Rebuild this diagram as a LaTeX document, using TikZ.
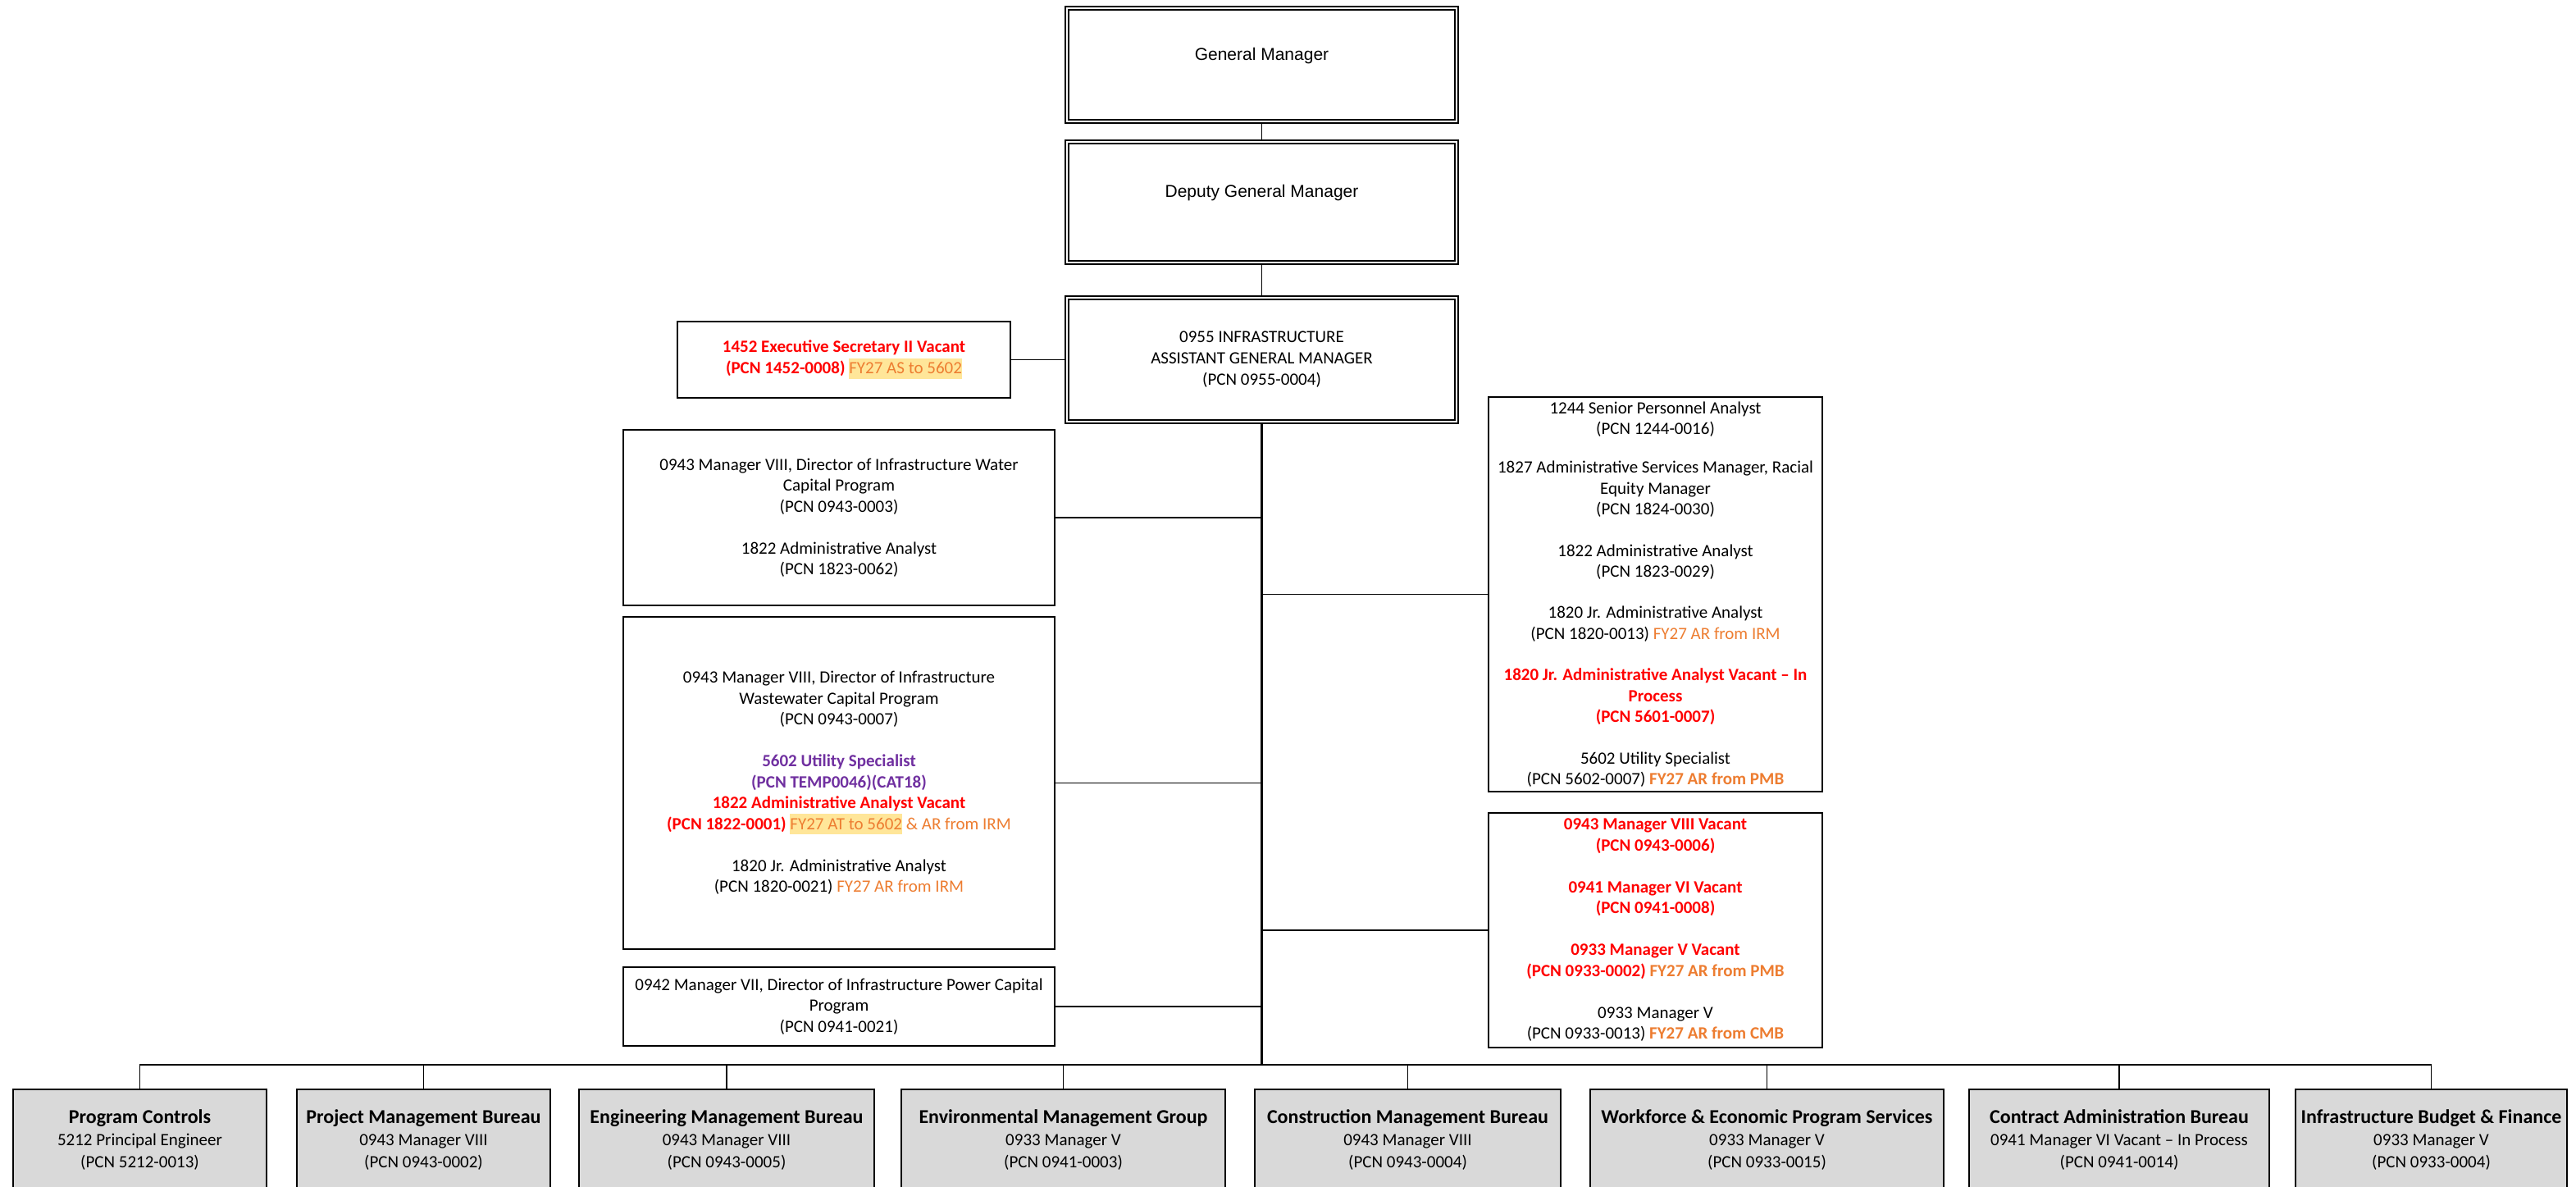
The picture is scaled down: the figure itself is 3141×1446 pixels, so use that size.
\documentclass[tikz,border=0pt]{standalone}
\usepackage{fontspec}
\setmainfont{Carlito}
\newfontfamily\arialf{Liberation Sans}
\definecolor{vred}{HTML}{FF0000}
\definecolor{orng}{HTML}{ED7D31}
\definecolor{hlc}{HTML}{FFE699}
\definecolor{purp}{HTML}{7030A0}
\definecolor{boxgray}{HTML}{D9D9D9}
\newcommand\hl[1]{{\setlength{\fboxsep}{0pt}\colorbox{hlc}{\rule[-6pt]{0pt}{25pt}#1}}}
\newcommand\rb[1]{{\bfseries\color{vred}#1}}
\newcommand\org[1]{{\color{orng}#1}}
\newcommand\orgb[1]{{\bfseries\color{orng}#1}}
\newcommand\pb[1]{{\bfseries\color{purp}#1}}
\newcommand\ttl[1]{{\fontsize{24}{27}\selectfont\bfseries #1}}
\newlength\bl \setlength\bl{25.5pt}
\begin{document}
\begin{tikzpicture}[x=1pt,y=-1pt,
  box/.style={draw=black, line width=1.6pt, fill=white, align=center, inner sep=0pt,
    font=\fontsize{21}{25.5}\selectfont, anchor=center},
  dbox/.style={draw=black, double=white, double distance=2.8pt, line width=1.6pt, fill=white,
    align=center, inner sep=0pt, anchor=center},
  bbox/.style={box, fill=boxgray, font=\fontsize{21}{27}\selectfont, minimum height=123.4pt},
  link/.style={line width=1.6pt},
  trunkline/.style={line width=2.2pt}]
\useasboundingbox (0,0) rectangle (3141,1446);
\fill[white] (0,0) rectangle (3141,1446);
\clip (0,0) rectangle (3141,1446);

% top chain
\node[dbox, minimum width=475pt, minimum height=138pt, font=\arialf\fontsize{21}{25}\selectfont]
  (gm) at (1538.5,79) {\raisebox{5.5pt}[0pt][0pt]{General Manager}};
\node[dbox, minimum width=475pt, minimum height=147pt, font=\arialf\fontsize{21}{25}\selectfont]
  (dgm) at (1538.5,246.5) {\raisebox{6pt}[0pt][0pt]{Deputy General Manager}};
\node[dbox, minimum width=475pt, minimum height=151pt, font=\fontsize{21}{26}\selectfont]
  (agm) at (1538.5,438.5) {0955 INFRASTRUCTURE\\ASSISTANT GENERAL MANAGER\\(PCN 0955-0004)};

\node[box, minimum width=406pt, minimum height=93pt, font=\fontsize{21}{26}\selectfont]
  (exec) at (1029,438.5) {\rb{1452 Executive Secretary II Vacant}\\\rb{(PCN 1452-0008)} \hl{\org{FY27 AS to 5602}}};

% left column
\node[box, minimum width=526pt, minimum height=214pt] (water) at (1023,631)
  {0943 Manager VIII, Director of Infrastructure Water\\Capital Program\\(PCN 0943-0003)\\[\bl]
   1822 Administrative Analyst\\(PCN 1823-0062)};
\node[box, minimum width=526pt, minimum height=405pt] (waste) at (1023,954.5)
  {0943 Manager VIII, Director of Infrastructure\\Wastewater Capital Program\\(PCN 0943-0007)\\[\bl]
   \pb{5602 Utility Specialist}\\\pb{(PCN TEMP0046)(CAT18)}\\
   \rb{1822 Administrative Analyst Vacant}\\
   \rb{(PCN 1822-0001)} \hl{\org{FY27 AT to 5602}} \org{\& AR from IRM}\\[\bl]
   1820 Jr. Administrative Analyst\\(PCN 1820-0021) \org{FY27 AR from IRM}};
\node[box, minimum width=526pt, minimum height=96pt] (power) at (1023,1227)
  {0942 Manager VII, Director of Infrastructure Power Capital\\Program\\(PCN 0941-0021)};

% right column
\node[box, minimum width=407pt, minimum height=481pt, font=\fontsize{21}{25.3}\selectfont] (staff) at (2018.5,724.5)
  {1244 Senior Personnel Analyst\\(PCN 1244-0016)\\[22pt]
   1827 Administrative Services Manager, Racial\\Equity Manager\\(PCN 1824-0030)\\[25.3pt]
   1822 Administrative Analyst\\(PCN 1823-0029)\\[25.3pt]
   1820 Jr. Administrative Analyst\\(PCN 1820-0013) \org{FY27 AR from IRM}\\[25.3pt]
   \rb{1820 Jr. Administrative Analyst Vacant – In}\\\rb{Process}\\\rb{(PCN 5601-0007)}\\[25.3pt]
   5602 Utility Specialist\\(PCN 5602-0007) \orgb{FY27 AR from PMB}};
\node[box, minimum width=407pt, minimum height=286pt] (mgrs) at (2018.5,1134)
  {\rb{0943 Manager VIII Vacant}\\\rb{(PCN 0943-0006)}\\[\bl]
   \rb{0941 Manager VI Vacant}\\\rb{(PCN 0941-0008)}\\[\bl]
   \rb{0933 Manager V Vacant}\\\rb{(PCN 0933-0002)} \orgb{FY27 AR from PMB}\\[\bl]
   0933 Manager V\\(PCN 0933-0013) \orgb{FY27 AR from CMB}};

% bottom row
\node[bbox, minimum width=309pt] (b1) at (170.5,1389.5)
  {\ttl{Program Controls}\\5212 Principal Engineer\\(PCN 5212-0013)};
\node[bbox, minimum width=309pt] (b2) at (516.5,1389.5)
  {\ttl{Project Management Bureau}\\0943 Manager VIII\\(PCN 0943-0002)};
\node[bbox, minimum width=360pt] (b3) at (886,1389.5)
  {\ttl{Engineering Management Bureau}\\0943 Manager VIII\\(PCN 0943-0005)};
\node[bbox, minimum width=395pt] (b4) at (1296.5,1389.5)
  {\ttl{Environmental Management Group}\\0933 Manager V\\(PCN 0941-0003)};
\node[bbox, minimum width=373pt] (b5) at (1716.5,1389.5)
  {\ttl{Construction Management Bureau}\\0943 Manager VIII\\(PCN 0943-0004)};
\node[bbox, minimum width=431pt] (b6) at (2154.5,1389.5)
  {\ttl{Workforce \& Economic Program Services}\\0933 Manager V\\(PCN 0933-0015)};
\node[bbox, minimum width=366pt] (b7) at (2584,1389.5)
  {\ttl{Contract Administration Bureau}\\0941 Manager VI Vacant – In Process\\(PCN 0941-0014)};
\node[bbox, minimum width=331pt] (b8) at (2964.5,1389.5)
  {\ttl{Infrastructure Budget \& Finance}\\0933 Manager V\\(PCN 0933-0004)};

% connectors
\coordinate (bus) at (1538.5,1298);
\draw[link] (gm.south) -- (dgm.north);
\draw[link] (dgm.south) -- (agm.north);
\draw[link] (exec.east) -- (exec.east -| agm.west);
\draw[trunkline] (agm.south) -- (bus);
\draw[link] (water.east) -- (water.east -| bus);
\draw[link] (waste.east) -- (waste.east -| bus);
\draw[link] (power.east) -- (power.east -| bus);
\draw[link] (staff.west) -- (staff.west -| bus);
\draw[link] (mgrs.west) -- (mgrs.west -| bus);
\foreach \b in {b1,b2,b3,b4,b5,b6,b7,b8}
  \draw[link] (bus) -| (\b.north);
\end{tikzpicture}
\end{document}
